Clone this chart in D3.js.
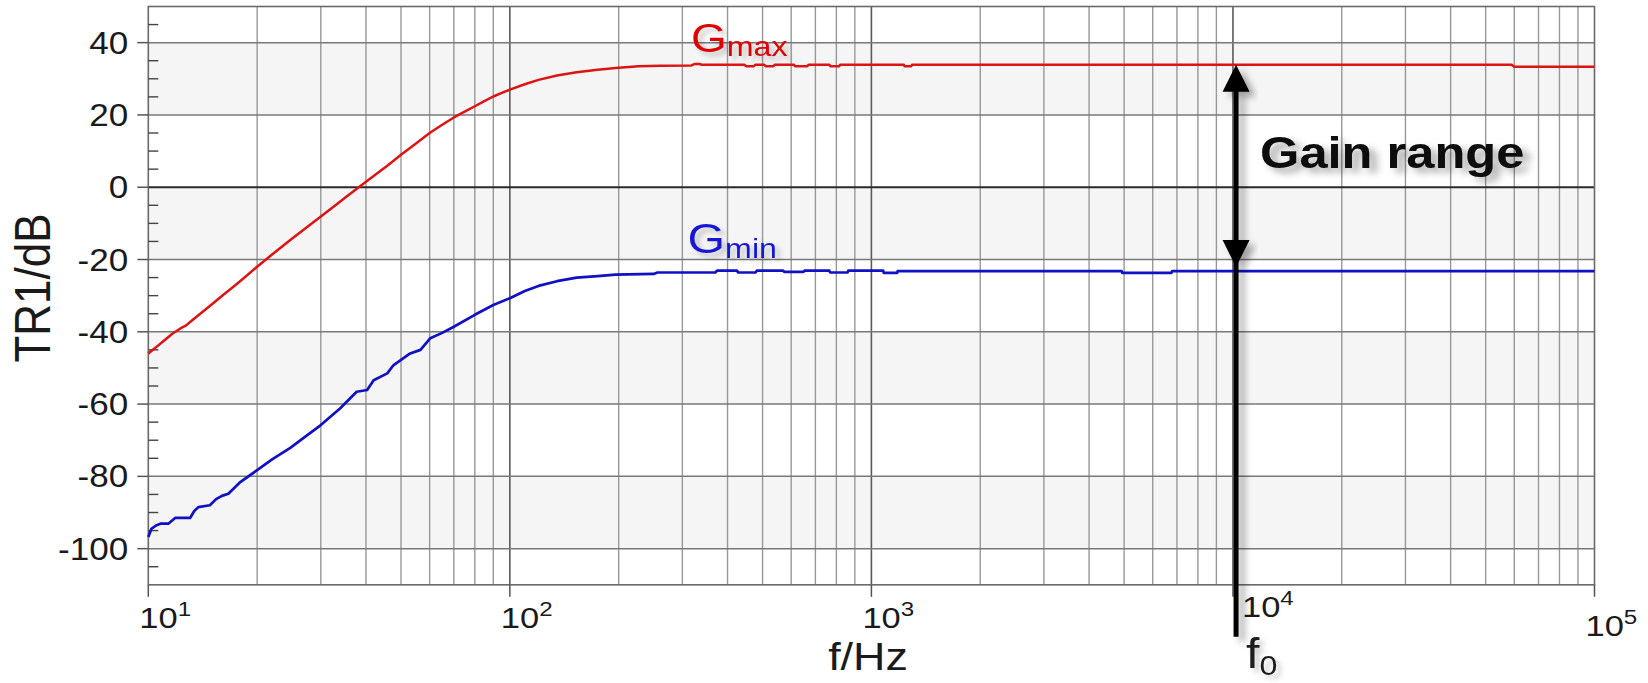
<!DOCTYPE html>
<html><head><meta charset="utf-8">
<script src="https://cdn.jsdelivr.net/npm/d3@7/dist/d3.min.js"></script>
<style>
html,body{margin:0;padding:0;background:#fff;}
svg{display:block;font-family:"Liberation Sans",Arial,Helvetica,sans-serif;}
</style>
</head><body>
<svg id="chart" width="1648" height="683"></svg>
<script>
// ---------------- data ----------------
const gmaxFreq = [10,10.5,11,11.7,12.3,12.7,13.05,14,15,16.1,17.5,18.7,20,22,24.7,27,30,33,35,38.2,42,46,50,55,60,65,70,75,80,85,90,95,100,110,120,135,153,175,196,227,260,318,325,334,340,445,450,473,478,505,510,536,541,610,615,665,670,765,770,815,820,1230,1235,1290,1295,59000,60000,100000];
const gmaxDb   = [-46.0,-44.3,-42.6,-40.4,-39.0,-38.3,-37.3,-34.8,-32.4,-29.8,-26.9,-24.5,-22.0,-18.6,-14.6,-11.6,-8.1,-4.9,-2.9,0,3.1,6.1,9.0,12.1,15.0,17.3,19.3,20.9,22.4,23.8,25.1,26.1,27.0,28.5,29.7,30.9,31.8,32.5,33.0,33.5,33.6,33.7,34.1,34.1,33.9,33.9,33.5,33.5,33.9,33.9,33.5,33.5,33.9,33.9,33.5,33.5,33.9,33.9,33.5,33.5,33.9,33.9,33.5,33.5,33.9,33.9,33.3,33.3];

const gminFreq = [10,10.2,10.5,10.8,11.36,11.86,13.05,13.4,13.75,14.8,15.4,15.98,16.65,18,20,22,24.7,27,30,33.9,37.7,40.3,42,45.8,47.7,53,56.6,60.2,65,70,80,90,100,110,120,135,153,175,196,250,256,370,374,425,428,478,482,570,574,649,653,765,769,859,863,1078,1082,1178,1182,4920,4940,6760,6790,100000];
const gminDb   = [-96.8,-94.5,-93.6,-93.1,-93.1,-91.5,-91.5,-89.6,-88.5,-88.0,-86.3,-85.4,-84.8,-81.5,-78.3,-75.3,-72.1,-69.2,-65.8,-61.2,-56.6,-56.1,-53.4,-51.5,-49.2,-46.0,-45.0,-41.8,-40.3,-38.6,-35.3,-32.6,-30.7,-28.7,-27.3,-26.0,-25.0,-24.6,-24.2,-24.0,-23.6,-23.6,-23.1,-23.1,-23.6,-23.6,-23.1,-23.1,-23.4,-23.4,-23.1,-23.1,-23.6,-23.6,-23.1,-23.1,-23.7,-23.7,-23.2,-23.2,-23.7,-23.7,-23.2,-23.2];

const yTickValues   = [-100,-80,-60,-40,-20,0,20,40];
const yMinorValues  = [-105,-95,-90,-85,-75,-70,-65,-55,-50,-45,-35,-30,-25,-15,-10,-5,5,10,15,25,30,35,45];
const xTickExponents = [1,2,3,4,5];
const shadedBands   = [[-100,-80],[-60,-40],[-20,0],[20,40]];
const f0 = 10200;
const gmaxLabelF = 317, gminLabelF = 310;
const yTitle = "TR1/dB";
const xTitle = "f/Hz";
const annotation = "Gain range";

// ---------------- layout ----------------
const W = 1648, H = 683;
const L = 148.3, R = 1594.5, T = 6.5, B = 584.8;
const SX = 1.15; // horizontal stretch of the original picture's text

const svg = d3.select("#chart");
const x = d3.scaleLog().domain([10, 1e5]).range([L, R]);
const y = d3.scaleLinear().domain([-110, 50]).range([B, T]);

const defs = svg.append("defs");
const sh = defs.append("filter").attr("id","shadow").attr("x","-30%").attr("y","-30%").attr("width","160%").attr("height","160%");
sh.append("feDropShadow").attr("dx",6).attr("dy",5).attr("stdDeviation",3.5).attr("flood-color","#000").attr("flood-opacity",0.35);
const sh2 = defs.append("filter").attr("id","shadowS").attr("x","-30%").attr("y","-30%").attr("width","160%").attr("height","160%");
sh2.append("feDropShadow").attr("dx",4).attr("dy",4).attr("stdDeviation",2.5).attr("flood-color","#000").attr("flood-opacity",0.22);

svg.append("rect").attr("width",W).attr("height",H).attr("fill","#fff");

// shaded bands
svg.append("g").selectAll("rect").data(shadedBands).join("rect")
  .attr("x", L).attr("width", R - L)
  .attr("y", d => y(d[1])).attr("height", d => y(d[0]) - y(d[1]))
  .attr("fill", "#f5f5f5");

// vertical grid lines
const minorF = [];
for (let e = 1; e <= 4; e++) for (let m = 2; m <= 9; m++) minorF.push(m * Math.pow(10, e));
svg.append("g").selectAll("line").data(minorF).join("line")
  .attr("x1", d => x(d)).attr("x2", d => x(d)).attr("y1", T).attr("y2", B)
  .attr("stroke", "#989898").attr("stroke-width", 1.4);
svg.append("g").selectAll("line").data(xTickExponents.slice(1, 4)).join("line")
  .attr("x1", d => x(Math.pow(10, d))).attr("x2", d => x(Math.pow(10, d))).attr("y1", T).attr("y2", B)
  .attr("stroke", "#5a5a5a").attr("stroke-width", 1.6);

// horizontal grid lines
svg.append("g").selectAll("line").data(yTickValues.filter(v => v !== 0)).join("line")
  .attr("x1", L).attr("x2", R).attr("y1", d => y(d)).attr("y2", d => y(d))
  .attr("stroke", "#787878").attr("stroke-width", 1.5);
svg.append("line").attr("x1", L).attr("x2", R).attr("y1", y(0)).attr("y2", y(0))
  .attr("stroke", "#2a2a2a").attr("stroke-width", 2);

// frame
svg.append("rect").attr("x", L).attr("y", T).attr("width", R - L).attr("height", B - T)
  .attr("fill", "none").attr("stroke", "#6a6a6a").attr("stroke-width", 1.6);

// y major ticks (outside) and minor ticks (inside)
svg.append("g").selectAll("line").data(yTickValues).join("line")
  .attr("x1", L - 11).attr("x2", L).attr("y1", d => y(d)).attr("y2", d => y(d))
  .attr("stroke", "#555").attr("stroke-width", 1.5);
svg.append("g").selectAll("line").data(yMinorValues).join("line")
  .attr("x1", L).attr("x2", L + 10).attr("y1", d => y(d)).attr("y2", d => y(d))
  .attr("stroke", "#444").attr("stroke-width", 1.4);
// x decade ticks (outside)
svg.append("g").selectAll("line").data(xTickExponents).join("line")
  .attr("x1", d => x(Math.pow(10, d))).attr("x2", d => x(Math.pow(10, d)))
  .attr("y1", B).attr("y2", B + 12)
  .attr("stroke", "#555").attr("stroke-width", 1.5);

// y tick labels
svg.append("g").selectAll("text").data(yTickValues).join("text")
  .attr("transform", d => `translate(${L - 20},${y(d) + 11}) scale(${SX},1)`)
  .attr("text-anchor", "end").attr("font-size", 30.5).attr("fill", "#1a1a1a")
  .text(d => d);

// x tick labels: 10^n
const xlab = svg.append("g").selectAll("text").data(xTickExponents).join("text")
  .attr("transform", d => {
    const dx = d === 4 ? 9 : -9;
    const by = d === 4 ? 617 : (d === 5 ? 636 : 628);
    return `translate(${x(Math.pow(10, d)) + dx},${by}) scale(${SX},1)`;
  })
  .attr("font-size", 30).attr("fill", "#1a1a1a");
xlab.append("tspan").text("10");
xlab.append("tspan").attr("font-size", 21).attr("dy", -12).text(d => d);

// axis titles
svg.append("text")
  .attr("transform", `translate(${50},${288}) scale(${SX},1) rotate(-90)`)
  .attr("text-anchor", "middle").attr("font-size", 44).attr("fill", "#1a1a1a")
  .text(yTitle);
svg.append("text")
  .attr("transform", `translate(${868},${670}) scale(${SX},1)`)
  .attr("text-anchor", "middle").attr("font-size", 39).attr("fill", "#1a1a1a")
  .text(xTitle);

// curves
const line = d3.line().x(d => x(d[0])).y(d => y(d[1]));
svg.append("path").datum(d3.zip(gmaxFreq, gmaxDb)).attr("d", line)
  .attr("fill", "none").attr("stroke", "#dc1414").attr("stroke-width", 2.5).attr("stroke-linejoin", "round");
svg.append("path").datum(d3.zip(gminFreq, gminDb)).attr("d", line)
  .attr("fill", "none").attr("stroke", "#1010c4").attr("stroke-width", 2.7).attr("stroke-linejoin", "round");

// curve labels
function subLabel(px, py, main, sub, color, fsMain, fsSub, subDy) {
  const t = svg.append("text")
    .attr("transform", `translate(${px},${py}) scale(${SX},1)`)
    .attr("fill", color).attr("font-size", fsMain).attr("filter", "url(#shadowS)");
  t.append("tspan").text(main);
  t.append("tspan").attr("font-size", fsSub).attr("dy", subDy).text(sub);
  return t;
}
subLabel(x(gmaxLabelF), 52, "G", "max", "#e00000", 40, 28, 4);
subLabel(x(gminLabelF), 253, "G", "min", "#1818d4", 42, 28, 5);

// gain range arrow at f0
const gAtF0max = gmaxDb[d3.bisectLeft(gmaxFreq, f0)];
const gAtF0min = gminDb[d3.bisectLeft(gminFreq, f0)];
const ax = x(f0);
const yTop = y(gAtF0max), yBot = y(gAtF0min) - 4, yEnd = B + 52;
const arrow = svg.append("g").attr("filter", "url(#shadow)");
arrow.append("line").attr("x1", ax).attr("x2", ax).attr("y1", yTop + 20).attr("y2", yEnd)
  .attr("stroke", "#000").attr("stroke-width", 5);
arrow.append("path")
  .attr("d", `M${ax},${yTop} L${ax + 13.5},${yTop + 27} L${ax - 13.5},${yTop + 27} Z`).attr("fill", "#000");
arrow.append("path")
  .attr("d", `M${ax},${yBot} L${ax + 13.5},${yBot - 27} L${ax - 13.5},${yBot - 27} Z`).attr("fill", "#000");

svg.append("text")
  .attr("transform", `translate(${ax + 24},${168}) scale(${SX},1)`)
  .attr("font-size", 44).attr("font-weight", "bold").attr("fill", "#0a0a0a")
  .attr("filter", "url(#shadow)")
  .text(annotation);

// f0 label
const f0t = svg.append("text")
  .attr("transform", `translate(${ax + 10},${668}) scale(${SX},1)`)
  .attr("font-size", 42).attr("fill", "#1a1a1a").attr("filter", "url(#shadowS)");
f0t.append("tspan").text("f");
f0t.append("tspan").attr("font-size", 28).attr("dy", 7).text("0");
</script>
</body></html>
